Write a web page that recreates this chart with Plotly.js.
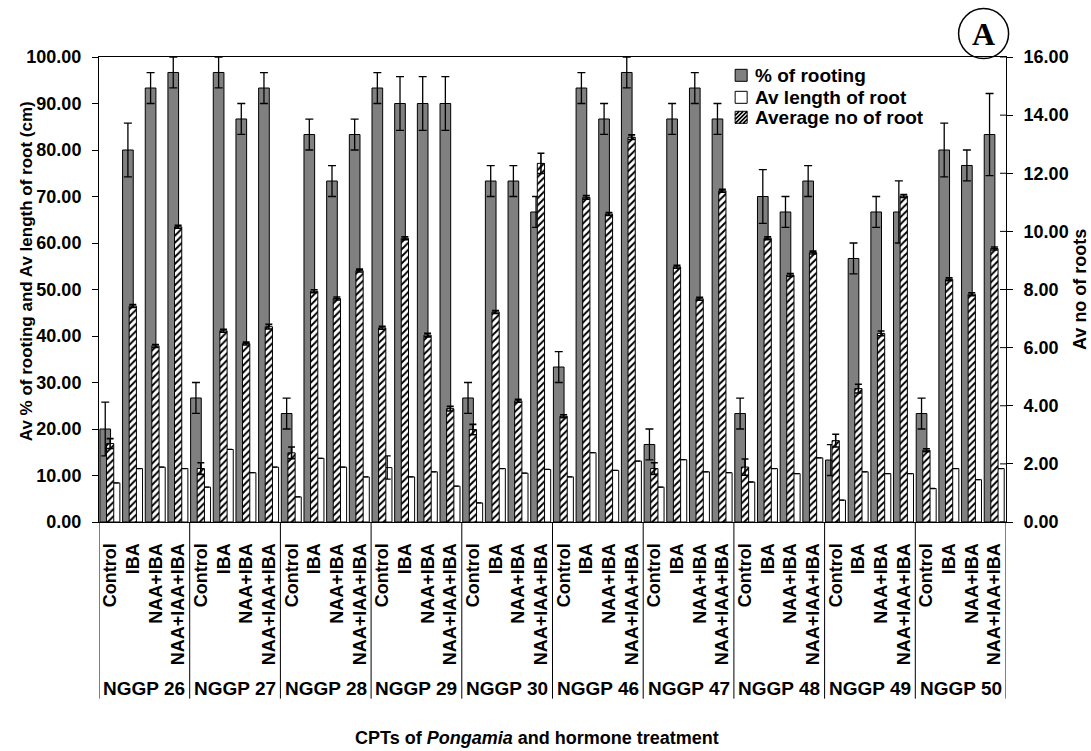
<!DOCTYPE html>
<html>
<head>
<meta charset="utf-8">
<script src="https://cdn.plot.ly/plotly-3.0.1.min.js"></script>
<style>
  html, body { margin: 0; padding: 0; background: #ffffff; }
  #chart { width: 1091px; height: 751px; }
</style>
</head>
<body>
<div id="chart"></div>
<script>
// Cutting propagation trial: candidate plus trees (CPTs) of Pongamia x hormone treatment
const groups = ['NGGP 26', 'NGGP 27', 'NGGP 28', 'NGGP 29', 'NGGP 30',
                'NGGP 46', 'NGGP 47', 'NGGP 48', 'NGGP 49', 'NGGP 50'];
const treatments = ['Control', 'IBA', 'NAA+IBA', 'NAA+IAA+IBA'];
const seriesNames = ['% of rooting', 'Av length of root', 'Average no of root'];

// % of rooting (left axis), four treatments per CPT
const rooting = [
  20.00, 80.00, 93.33, 96.67,
  26.67, 96.67, 86.67, 93.33,
  23.33, 83.33, 73.33, 83.33,
  93.33, 90.00, 90.00, 90.00,
  26.67, 73.33, 73.33, 66.67,
  33.33, 93.33, 86.67, 96.67,
  16.67, 86.67, 93.33, 86.67,
  23.33, 70.00, 66.67, 73.33,
  13.33, 56.67, 66.67, 66.67,
  23.33, 80.00, 76.67, 83.33
];
const rootingErr = [
  5.77, 5.77, 3.33, 3.33,
  3.33, 3.33, 3.33, 3.33,
  3.33, 3.33, 3.33, 3.33,
  3.33, 5.77, 5.77, 5.77,
  3.33, 3.33, 3.33, 3.33,
  3.33, 3.33, 3.33, 3.33,
  3.33, 3.33, 3.33, 3.33,
  3.33, 5.77, 3.33, 3.33,
  3.33, 3.33, 3.33, 6.67,
  3.33, 5.77, 3.33, 8.82
];

// Average length of root, cm (left axis)
const rootLength = [
  8.4, 11.5, 11.8, 11.5,
  7.5, 15.6, 10.6, 11.8,
  5.4, 13.7, 11.8, 9.7,
  11.7, 9.7, 10.8, 7.7,
  4.1, 11.5, 10.5, 11.3,
  9.7, 14.9, 11.1, 13.1,
  7.5, 13.4, 10.8, 10.6,
  8.6, 11.5, 10.4, 13.8,
  4.7, 10.8, 10.4, 10.4,
  7.2, 11.5, 9.1, 11.5
];
const rootLengthErr = [
  0, 0, 0, 0,
  0, 0, 0, 0,
  0, 0, 0, 0,
  2.5, 0, 0, 0,
  0, 0, 0, 0,
  0, 0, 0, 0,
  0, 0, 0, 0,
  0, 0, 0, 0,
  0, 0, 0, 0,
  0, 0, 0, 0
];

// Average number of roots (right axis)
const rootNumber = [
  2.70, 7.43, 6.06, 10.16,
  1.84, 6.58, 6.14, 6.72,
  2.38, 7.94, 7.69, 8.65,
  6.68, 9.76, 6.43, 3.90,
  3.18, 7.23, 4.17, 12.34,
  3.64, 11.17, 10.60, 13.24,
  1.84, 8.78, 7.68, 11.40,
  1.89, 9.76, 8.50, 9.27,
  2.80, 4.59, 6.49, 11.22,
  2.47, 8.35, 7.84, 9.41
];
const rootNumberErr = [
  0.17, 0.05, 0.05, 0.05,
  0.20, 0.05, 0.05, 0.08,
  0.20, 0.05, 0.05, 0.05,
  0.05, 0.05, 0.06, 0.08,
  0.18, 0.05, 0.05, 0.35,
  0.05, 0.06, 0.05, 0.08,
  0.20, 0.05, 0.05, 0.05,
  0.28, 0.05, 0.05, 0.05,
  0.22, 0.15, 0.08, 0.05,
  0.05, 0.05, 0.05, 0.05
];

// right-axis tick values (ticks cross the axis line)
const rightTicks = [0, 2, 4, 6, 8, 10, 12, 14, 16];

// one slot per (CPT, treatment) pair on a numeric x scale
const xIdx = [];
const tickText = [];
groups.forEach((g, gi) => treatments.forEach((t, ti) => {
  xIdx.push(gi * treatments.length + ti);
  tickText.push(t);
}));

const FONT = 'Liberation Sans, Arial, Helvetica, sans-serif';
const BLACK = '#000000';
const outline = { color: BLACK, width: 1 };

const traces = [
  {
    type: 'bar', name: seriesNames[0],
    x: xIdx, y: rooting,
    offset: -0.46, width: 0.47,
    marker: { color: '#808080', line: outline },
    error_y: { type: 'data', array: rootingErr, visible: true,
               color: BLACK, thickness: 1.3, width: 4 },
    yaxis: 'y'
  },
  {
    type: 'bar', name: seriesNames[1],
    x: xIdx, y: rootLength,
    offset: 0.0, width: 0.42,
    marker: { color: '#ffffff', line: outline },
    error_y: { type: 'data', array: rootLengthErr, visible: true,
               color: BLACK, thickness: 1.3, width: 3.5 },
    yaxis: 'y'
  },
  {
    type: 'bar', name: seriesNames[2],
    x: xIdx, y: rootNumber,
    offset: -0.17, width: 0.32,
    marker: {
      color: '#ffffff', line: outline,
      pattern: { shape: '/', fgcolor: BLACK, bgcolor: '#ffffff',
                 size: 5, solidity: 0.4, fillmode: 'replace' }
    },
    error_y: { type: 'data', array: rootNumberErr, visible: true,
               color: BLACK, thickness: 1.6, width: 3.5 },
    yaxis: 'y2'
  }
];

const nCat = xIdx.length;
const shapes = [];

// group dividers below the axis, framing each CPT's labels
for (let g = 0; g <= groups.length; g++) {
  shapes.push({
    type: 'line', xref: 'x', yref: 'paper',
    x0: g * treatments.length - 0.5, x1: g * treatments.length - 0.5,
    y0: 0, y1: -0.38,
    line: { color: BLACK, width: 1 }
  });
}

// inner half of the crossing tick marks on the right axis
rightTicks.forEach(v => {
  shapes.push({
    type: 'line', xref: 'paper', yref: 'y2',
    xsizemode: 'pixel', xanchor: 1, x0: -6, x1: 0,
    y0: v, y1: v,
    line: { color: BLACK, width: 1 }
  });
});

// circled panel letter
shapes.push({
  type: 'circle', xref: 'paper', yref: 'paper',
  xsizemode: 'pixel', ysizemode: 'pixel',
  xanchor: 0.9753, yanchor: 1.0503,
  x0: -25, x1: 25, y0: -25, y1: 25,
  line: { color: BLACK, width: 1.5 }
});

// legend keys
const legX = 0.708;
const legRows = [0.9606, 0.9133, 0.8703];
const keyBox = (yAnchor, fill) => ({
  type: 'rect', xref: 'paper', yref: 'paper',
  xsizemode: 'pixel', ysizemode: 'pixel',
  xanchor: legX, yanchor: yAnchor,
  x0: -6, x1: 6, y0: -6, y1: 6,
  fillcolor: fill, line: { color: BLACK, width: 1 }
});
shapes.push(keyBox(legRows[0], '#808080'));
shapes.push(keyBox(legRows[1], '#ffffff'));
shapes.push(keyBox(legRows[2], '#ffffff'));
shapes.push({
  type: 'path', xref: 'paper', yref: 'paper',
  xsizemode: 'pixel', ysizemode: 'pixel',
  xanchor: legX, yanchor: legRows[2],
  path: 'M-6,-6L6,6 M-6,-2L2,6 M-6,2L-2,6 M-2,-6L6,2 M2,-6L6,-2',
  line: { color: BLACK, width: 1.6 }
});

const annotations = groups.map((g, gi) => ({
  text: g, xref: 'x', yref: 'paper',
  x: gi * treatments.length + (treatments.length - 1) / 2, y: -0.357,
  xanchor: 'center', yanchor: 'middle', showarrow: false,
  font: { family: FONT, size: 19, color: BLACK, weight: 'bold' }
}));

seriesNames.forEach((name, i) => annotations.push({
  text: name, xref: 'paper', yref: 'paper', x: 0.7212, y: legRows[i],
  xanchor: 'left', yanchor: 'middle', showarrow: false,
  font: { family: FONT, size: 19, color: BLACK, weight: 'bold' }
}));

annotations.push(
  {
    text: 'A', xref: 'paper', yref: 'paper', x: 0.9753, y: 1.0503,
    xanchor: 'center', yanchor: 'middle', showarrow: false,
    font: { family: 'Liberation Serif, Times New Roman, serif', size: 32,
            color: BLACK, weight: 'bold' }
  },
  {
    text: 'CPTs of <i>Pongamia</i> and hormone treatment',
    xref: 'paper', yref: 'paper', x: 0.483, y: -0.465,
    xanchor: 'center', yanchor: 'middle', showarrow: false,
    font: { family: FONT, size: 18, color: BLACK, weight: 'bold' }
  },
  {
    text: 'Av % of rooting and Av length of root (cm)',
    xref: 'paper', yref: 'paper', x: -0.079, y: 0.54,
    xanchor: 'center', yanchor: 'middle', textangle: -90, showarrow: false,
    font: { family: FONT, size: 17, color: BLACK, weight: 'bold' }
  },
  {
    text: 'Av no of roots',
    xref: 'paper', yref: 'paper', x: 1.081, y: 0.5,
    xanchor: 'center', yanchor: 'middle', textangle: -90, showarrow: false,
    font: { family: FONT, size: 18, color: BLACK, weight: 'bold' }
  }
);

const tickFont = { family: FONT, size: 18, color: BLACK, weight: 'bold' };

const layout = {
  width: 1091, height: 751,
  margin: { l: 99, r: 85, t: 57, b: 229 },
  paper_bgcolor: '#ffffff', plot_bgcolor: '#ffffff',
  barmode: 'overlay',
  showlegend: false,
  xaxis: {
    range: [-0.5, nCat - 0.5],
    tickmode: 'array', tickvals: xIdx, ticktext: tickText,
    tickangle: -90, ticks: '', ticklabelstandoff: 13,
    tickfont: tickFont,
    showline: true, linecolor: BLACK, linewidth: 1, mirror: true,
    showgrid: false, zeroline: false, fixedrange: true
  },
  yaxis: {
    range: [0, 100], dtick: 10, tickformat: '.2f',
    ticks: 'outside', ticklen: 6, tickcolor: BLACK,
    tickfont: tickFont, ticklabelstandoff: 7,
    showline: true, linecolor: BLACK, linewidth: 1,
    showgrid: false, zeroline: false
  },
  yaxis2: {
    overlaying: 'y', side: 'right',
    range: [0, 16], tickmode: 'array', tickvals: rightTicks, tickformat: '.2f',
    ticks: 'outside', ticklen: 6, tickcolor: BLACK,
    tickfont: tickFont, ticklabelstandoff: 7,
    showline: true, linecolor: BLACK, linewidth: 1,
    showgrid: false, zeroline: false
  },
  shapes: shapes,
  annotations: annotations
};

Plotly.newPlot('chart', traces, layout, { displayModeBar: false, staticPlot: true });
</script>
</body>
</html>
